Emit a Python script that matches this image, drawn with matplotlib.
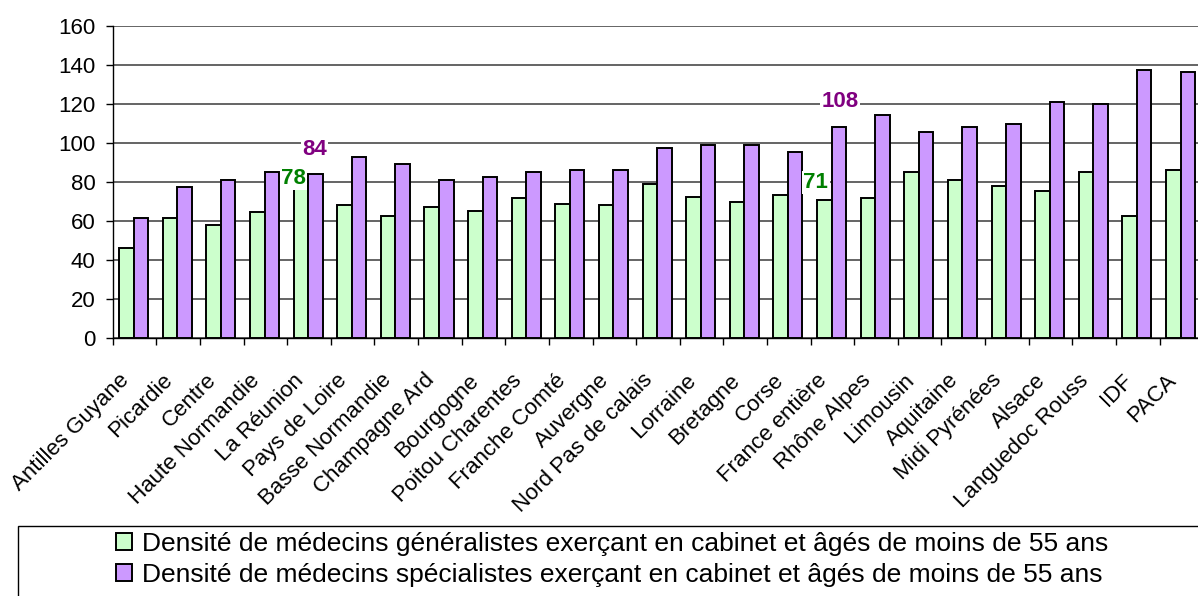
import matplotlib.pyplot as plt
from matplotlib.patches import Rectangle, Patch
from matplotlib.transforms import ScaledTranslation
import numpy as np

plt.rcParams['font.family'] = ['Liberation Sans', 'DejaVu Sans']

regions = ["Antilles Guyane", "Picardie", "Centre", "Haute Normandie", "La Réunion",
           "Pays de Loire", "Basse Normandie", "Champagne Ard", "Bourgogne",
           "Poitou Charentes", "Franche Comté", "Auvergne", "Nord Pas de calais",
           "Lorraine", "Bretagne", "Corse", "France entière", "Rhône Alpes",
           "Limousin", "Aquitaine", "Midi Pyrénées", "Alsace", "Languedoc Rouss",
           "IDF", "PACA"]

generalistes = [46.4, 61.8, 58.2, 64.5, 78, 68.1, 62.6, 67.2, 65.3, 71.6, 68.9, 68.1,
                79.0, 72.5, 69.9, 73.5, 71, 71.6, 85.3, 80.9, 78.1, 75.4, 85.3, 62.6, 86.3]
specialistes = [61.8, 77.3, 80.9, 85.3, 84, 92.8, 89.0, 80.9, 82.6, 85.3, 86.3, 86.3,
                97.2, 99.1, 99.1, 95.4, 108, 114.5, 105.4, 108.2, 109.9, 120.8, 119.9, 137.2, 136.3]

label_gen = "Densité de médecins généralistes exerçant en cabinet et âgés de moins de 55 ans"
label_spe = "Densité de médecins spécialistes exerçant en cabinet et âgés de moins de 55 ans"

# regions with value labels (La Réunion, France entière)
annotated = [4, 16]

green = "#CCFFCC"
purple = "#CC99FF"

W, H = 1198, 596
fig = plt.figure(figsize=(W / 100, H / 100), dpi=100)
ax = fig.add_axes([112.7 / W, 257.7 / H, 1090.5 / W, 312.6 / H])

x = np.arange(len(regions))
bw = 0.333
ax.bar(x - 0.186, generalistes, bw, color=green, edgecolor="black", linewidth=1.4, zorder=3)
ax.bar(x + 0.147, specialistes, bw, color=purple, edgecolor="black", linewidth=1.4, zorder=3)

ax.set_xlim(-0.5, len(regions) - 0.5)
ax.set_ylim(0, 160)
ax.set_yticks(range(0, 161, 20))
ax.yaxis.grid(True, color="#3a3a3a", linewidth=1.1, zorder=0)
ax.set_axisbelow(True)

for s in ["top", "right"]:
    ax.spines[s].set_visible(False)
ax.spines["left"].set_linewidth(1)
ax.spines["bottom"].set_linewidth(1)

ax.tick_params(axis="y", length=5.4, width=1, pad=7, labelsize=16)
ax.set_xticks(x)
ax.set_xticks(np.arange(-0.5, len(regions)), minor=True)
ax.tick_params(axis="x", which="major", length=0, labelsize=16)
ax.tick_params(axis="x", which="minor", length=5.2, width=1)
ax.set_xticklabels(regions, rotation=45, ha="right", va="baseline", rotation_mode="anchor")
offset = ScaledTranslation(-4.5 / 100, -38 / 100, fig.dpi_scale_trans)
for lab in ax.get_xticklabels():
    lab.set_transform(lab.get_transform() + offset)

# value labels
bbox = dict(facecolor="white", edgecolor="none", pad=1)
i, j = annotated
ax.text(i - 0.353, 81.8, f"{generalistes[i]:.0f}", color="#008000", fontsize=16,
        fontweight="bold", ha="center", va="center", bbox=bbox, zorder=5)
ax.text(i + 0.129, 96.4, f"{specialistes[i]:.0f}", color="#800080", fontsize=16,
        fontweight="bold", ha="center", va="center", bbox=bbox, zorder=5)
ax.text(j - 0.38, 79.7, f"{generalistes[j]:.0f}", color="#008000", fontsize=16,
        fontweight="bold", ha="center", va="center", bbox=bbox, zorder=5)
ax.text(j + 0.18, 121.2, f"{specialistes[j]:.0f}", color="#800080", fontsize=16,
        fontweight="bold", ha="center", va="center", bbox=bbox, zorder=5)

# legend box (runs off the bottom/right of the image)
fig.patches.append(Rectangle((18 / W, -0.2), 1204 / W, 0.2 + 70 / H, transform=fig.transFigure,
                             fill=False, edgecolor="black", linewidth=1))
handles = [Patch(facecolor=green, edgecolor="black", linewidth=1.4),
           Patch(facecolor=purple, edgecolor="black", linewidth=1.4)]
fig.legend(handles, [label_gen, label_spe], loc="upper center", bbox_to_anchor=(612 / W, 1 - 532 / H),
           frameon=False, fontsize=19, handlelength=0.6, handleheight=0.6,
           handletextpad=0.38, labelspacing=0.25, borderpad=0, borderaxespad=0)

fig.savefig("out.png", dpi=100)
